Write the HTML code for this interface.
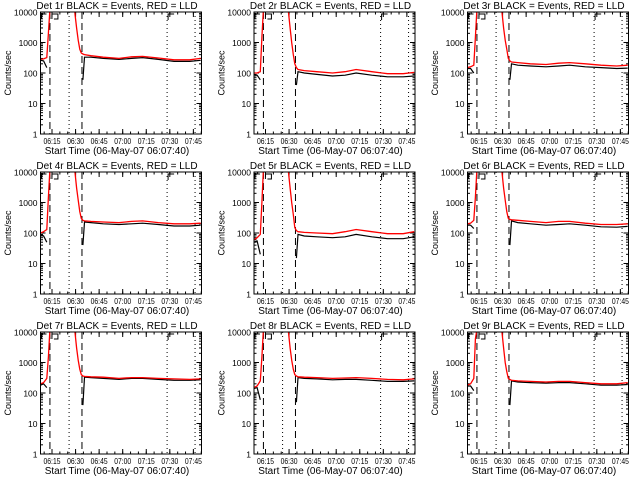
<!DOCTYPE html>
<html><head><meta charset="utf-8"><style>
html,body{margin:0;padding:0;background:#fff;}
svg{display:block;font-family:"Liberation Sans",sans-serif;}
</style></head><body>
<svg id="chart" width="640" height="480" viewBox="0 0 640 480"></svg>
<script>
const detectorLabels = ["1r","2r","3r","4r","5r","6r","7r","8r","9r"];
const timeMinutes = [0,2,4,5,6,7,21,22,23,24,25,26,27,28,32,40,50,58,65,75,85,95,102];
const xTickLabels = ["06:15","06:30","06:45","07:00","07:15","07:30","07:45"];
const xTickMinutes = [7.33,22.33,37.33,52.33,67.33,82.33,97.33];
const yTickValues = [1,10,100,1000,10000];
const yTickLabels = ["1","10","100","1000","10000"];
const dashedLineMinutes = [6,26.4];
const dottedLineMinutes = [18.2,80.6,98.4];
const N = null;
const redSeries = [
 [280,290,320,2000,12000,30000,30000,8000,3000,1200,600,450,420,400,370,330,300,340,350,310,270,270,300],
 [100,100,110,1500,12000,30000,30000,9000,3000,1000,400,200,150,130,120,110,100,110,130,110,95,95,105],
 [150,160,180,1500,12000,30000,30000,9000,3000,1200,600,300,250,230,220,200,190,210,220,200,180,170,180],
 [100,110,130,1500,12000,30000,30000,9000,3000,1200,500,300,260,250,240,230,220,240,250,220,200,200,210],
 [60,70,90,1000,12000,30000,30000,9000,3000,1000,400,150,120,110,105,100,95,110,130,110,95,95,110],
 [200,210,260,1500,12000,30000,30000,9000,3000,1200,500,300,280,270,260,240,220,240,240,210,190,190,200],
 [200,220,300,1500,12000,30000,30000,9000,3000,1200,600,400,360,350,340,330,300,320,320,300,290,280,290],
 [150,170,250,1500,12000,30000,30000,9000,3000,1200,600,400,360,340,330,320,300,310,320,300,280,270,290],
 [180,200,300,6000,12000,30000,30000,9000,3000,1000,500,300,280,260,250,240,230,240,240,220,200,200,220]
];
const blackSeries = [
 [260,250,150,N,N,N,N,N,N,N,N,N,60,330,330,300,280,300,320,280,240,240,260],
 [90,85,60,N,N,N,N,N,N,N,N,N,40,110,100,90,80,85,100,85,75,75,80],
 [140,140,100,N,N,N,N,N,N,N,N,N,60,200,180,170,160,170,180,160,150,140,145],
 [90,80,50,N,N,N,N,N,N,N,N,N,40,230,220,200,190,200,210,190,170,170,180],
 [50,55,20,N,N,N,N,N,N,N,N,N,15,90,80,75,70,75,90,75,65,65,75],
 [180,180,140,N,N,N,N,N,N,N,N,N,40,250,220,200,180,190,200,180,160,155,165],
 [180,200,150,N,N,N,N,N,N,N,N,N,40,330,320,300,280,300,300,280,260,260,270],
 [140,150,60,N,N,N,N,N,N,N,N,N,50,320,300,290,270,280,280,260,240,240,250],
 [170,170,120,N,N,N,N,N,N,N,N,N,40,250,230,220,210,220,220,200,180,180,190]
];

const svg = document.getElementById('chart');
const NS = "http://www.w3.org/2000/svg";
function mk(tag, attrs, parent){const e=document.createElementNS(NS,tag);for(const k in attrs)e.setAttribute(k,attrs[k]);parent.appendChild(e);return e;}

const PW = 161, PH = 122, L0 = 40.5, T0 = 12;
const xMax = 102.5;
for (let p = 0; p < 9; p++) {
  const ox = (p % 3) * 213.5, oy = Math.floor(p / 3) * 160;
  const L = L0 + ox, T = T0 + oy, R = L + PW, B = T + PH;
  const xs = m => L + m / xMax * PW;
  const ys = v => B - Math.log10(v) / 4 * PH;
  const g = mk('g', {}, svg);
  
  

  const cp = mk('clipPath', {id: 'c' + p}, g);
  mk('rect', {x: L, y: T, width: PW, height: PH}, cp);

  const title = mk('text', {x: (L + R) / 2 - 4, y: T - 3, 'text-anchor': 'middle', 'font-size': 10}, g);
  title.textContent = 'Det ' + detectorLabels[p] + ' BLACK = Events, RED = LLD';
  
  

  yTickValues.forEach((v, i) => {
    const y = ys(v);
    mk('line', {x1: L, x2: L + 5, y1: y, y2: y, stroke: '#000'}, g);
    mk('line', {x1: R, x2: R - 5, y1: y, y2: y, stroke: '#000'}, g);
    const t = mk('text', {x: L - 3, y: y + 3.5, 'text-anchor': 'end', 'font-size': 8.5}, g);
    t.textContent = yTickLabels[i];
    
    
    if (i < yTickValues.length - 1) {
      for (let k = 2; k < 10; k++) {
        const yy = ys(v * k);
        mk('line', {x1: L, x2: L + 2.5, y1: yy, y2: yy, stroke: '#000'}, g);
        mk('line', {x1: R, x2: R - 2.5, y1: yy, y2: yy, stroke: '#000'}, g);
      }
    }
  });
  xTickMinutes.forEach((m, i) => {
    const x = xs(m);
    mk('line', {x1: x, x2: x, y1: B, y2: B - 5, stroke: '#000'}, g);
    mk('line', {x1: x, x2: x, y1: T, y2: T + 5, stroke: '#000'}, g);
    const t = mk('text', {x: x, y: B + 10, 'text-anchor': 'middle', 'font-size': 8, textLength: 17, lengthAdjust: 'spacingAndGlyphs'}, g);
    t.textContent = xTickLabels[i];
    
    
  });
  for (let m = 2.33; m < xMax; m += 5) {
    const x = xs(m);
    mk('line', {x1: x, x2: x, y1: B, y2: B - 2.5, stroke: '#000'}, g);
    mk('line', {x1: x, x2: x, y1: T, y2: T + 2.5, stroke: '#000'}, g);
  }
  const xt = mk('text', {x: (L + R) / 2 - 4, y: B + 20, 'text-anchor': 'middle', 'font-size': 10}, g);
  xt.textContent = 'Start Time (06-May-07 06:07:40)';
  
  
  const yt = mk('text', {x: 0, y: 0, 'text-anchor': 'middle', 'font-size': 9, transform: 'translate(' + (ox + 11) + ',' + ((T + B) / 2) + ') rotate(-90)'}, g);
  yt.textContent = 'Counts/sec';
  
  

  dashedLineMinutes.forEach(m => {
    const l = mk('line', {x1: xs(m), x2: xs(m), y1: T, y2: B, stroke: '#000', 'stroke-dasharray': '7,4'}, g);
    
    
  });
  dottedLineMinutes.forEach(m => {
    const l = mk('line', {x1: xs(m), x2: xs(m), y1: T, y2: B, stroke: '#000', 'stroke-dasharray': '1,3'}, g);
    
    
  });
  mk('path', {d: `M${L+1},${T+7} V${T+2} H${L+6}`, fill: 'none', stroke: '#000'}, g);
  mk('path', {d: `M${xs(6)+2},${T+7} V${T+2} H${xs(6)+8} V${T+7} H${xs(6)+4}`, fill: 'none', stroke: '#000'}, g);
  mk('path', {d: `M${xs(80.6)+1},${T+8} V${T+2} H${xs(80.6)+7}`, fill: 'none', stroke: '#000'}, g);

  const plotG = mk('g', {'clip-path': 'url(#c' + p + ')'}, g);
  function drawSeries(vals, color, name, w) {
    let d = '', pen = false;
    vals.forEach((v, i) => {
      if (v == null) { pen = false; return; }
      d += (pen ? 'L' : 'M') + xs(timeMinutes[i]).toFixed(1) + ',' + ys(v).toFixed(1);
      pen = true;
    });
    const path = mk('path', {d: d, fill: 'none', stroke: color, 'stroke-width': w}, plotG);
    
    
  }
  drawSeries(blackSeries[p], '#000', 'events-series', 1.2);
  drawSeries(redSeries[p], '#f00', 'lld-series', 1.3);

  const frame = mk('rect', {x: L, y: T, width: PW, height: PH, fill: 'none', stroke: '#000'}, g);
  
  
}
</script>
</body></html>
